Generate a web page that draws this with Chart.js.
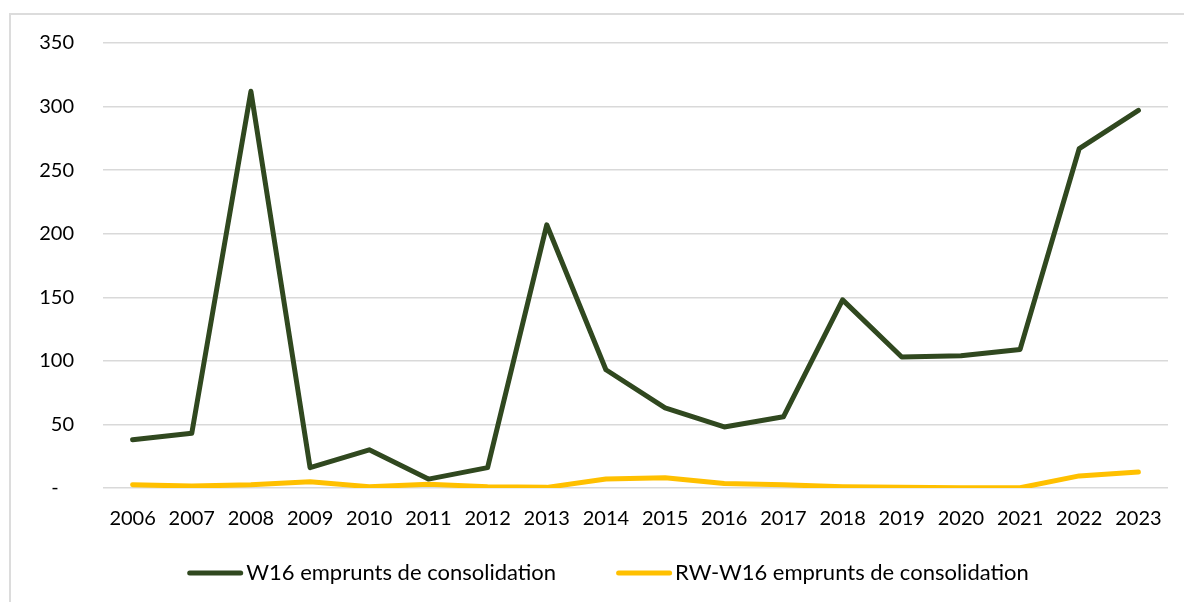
<!DOCTYPE html>
<html>
<head>
<meta charset="utf-8">
<script src="https://cdn.jsdelivr.net/npm/chart.js@4.4.1/dist/chart.umd.min.js"></script>
<style>
  html, body { margin: 0; padding: 0; background: #ffffff; overflow: hidden; }
  #wrap { position: relative; width: 1184px; height: 602px; }
  #frame { position: absolute; left: 9px; top: 13px; width: 1300px; height: 700px; border: 2px solid #DCDCDC; box-sizing: border-box; }
  canvas { position: absolute; left: 0; top: 0; }
</style>
</head>
<body>
<div id="wrap">
  <div id="frame"></div>
  <canvas id="c" width="1184" height="602"></canvas>
</div>
<script>
const years = ['2006','2007','2008','2009','2010','2011','2012','2013','2014','2015','2016','2017','2018','2019','2020','2021','2022','2023'];
const w16 = [38, 43, 312, 16, 30, 7, 16, 207, 93, 63, 48, 56, 148, 103, 104, 109, 267, 297];
const rwW16 = [2.5, 1.5, 2.5, 5, 1, 3, 1, 0.5, 7, 8, 3.5, 2.5, 1, 0.5, 0.2, 0.2, 9.5, 12.5];
const seriesNames = ['W16 emprunts de consolidation', 'RW-W16 emprunts de consolidation'];
const yTicks = [0, 50, 100, 150, 200, 250, 300, 350];

const green = '#30481F';
const yellow = '#FFC000';
const font = { family: 'Lato', size: 20 };
const legendFont = '22px Lato';

// Legend drawn at the bottom, from the chart's own dataset labels and colours
const bottomLegend = {
  id: 'bottomLegend',
  afterDraw(chart) {
    const ctx = chart.ctx;
    const ds = chart.data.datasets;
    const lineLen = 51, capGap = 8, itemGap = 60, y = 573, centerX = 608;
    ctx.save();
    ctx.font = legendFont;
    const widths = ds.map(d => lineLen + capGap + ctx.measureText(d.label).width);
    const total = widths.reduce((a, b) => a + b, 0) + itemGap * (ds.length - 1);
    let x = centerX - total / 2;
    ds.forEach((d, i) => {
      ctx.strokeStyle = d.borderColor;
      ctx.lineWidth = d.borderWidth;
      ctx.lineCap = 'round';
      ctx.beginPath();
      ctx.moveTo(x + 2.5, y);
      ctx.lineTo(x + 2.5 + lineLen, y);
      ctx.stroke();
      ctx.fillStyle = '#000';
      ctx.textAlign = 'left';
      ctx.textBaseline = 'middle';
      ctx.fillText(d.label, x + lineLen + capGap, y);
      x += widths[i] + itemGap;
    });
    ctx.restore();
  }
};

new Chart(document.getElementById('c'), {
  type: 'line',
  data: {
    labels: years,
    datasets: [
      { label: seriesNames[0], data: w16, borderColor: green, backgroundColor: green,
        borderWidth: 5, pointRadius: 0, tension: 0, borderJoinStyle: 'round', borderCapStyle: 'round', order: 1 },
      { label: seriesNames[1], data: rwW16, borderColor: yellow, backgroundColor: yellow,
        borderWidth: 5, pointRadius: 0, tension: 0, borderJoinStyle: 'round', borderCapStyle: 'round', order: 2 }
    ]
  },
  plugins: [bottomLegend],
  options: {
    responsive: false,
    animation: false,
    devicePixelRatio: 1,
    layout: { padding: { left: 0, right: 16, top: 43, bottom: 0 } },
    plugins: {
      tooltip: { enabled: false },
      legend: { display: false }
    },
    scales: {
      x: {
        offset: true,
        grid: { display: false, drawTicks: false },
        border: { display: false },
        ticks: { font: font, color: '#000', padding: 19, maxRotation: 0, autoSkip: false },
        afterFit: (s) => { s.height = 114; }
      },
      y: {
        min: 0, max: 350,
        afterBuildTicks: (s) => { s.ticks = yTicks.map(v => ({ value: v })); },
        grid: { color: '#D9D9D9', lineWidth: 1.5, drawTicks: false },
        border: { display: false },
        ticks: { font: font, color: '#000', padding: 29,
          callback: (v) => v === 0 ? '-   ' : String(v) },
        afterFit: (s) => { s.width = 103; }
      }
    }
  }
});
</script>
</body>
</html>
